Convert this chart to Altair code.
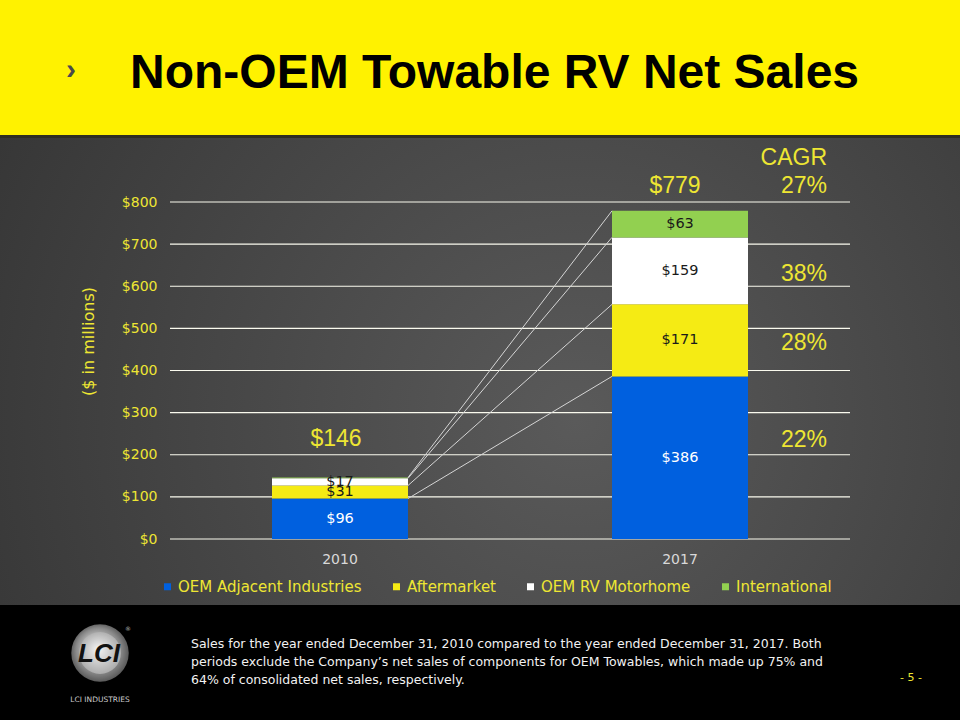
import altair as alt
import pandas as pd

# ---------------- data ----------------
years = ["2010", "2017"]
series = ["OEM Adjacent Industries", "Aftermarket", "OEM RV Motorhome", "International"]
values_2010 = [96, 31, 17, 2]
values_2017 = [386, 171, 159, 63]
series_colors = ["#0060DF", "#F5EB14", "#FFFFFF", "#92D050"]
y_ticks = [0, 100, 200, 300, 400, 500, 600, 700, 800]
cagr_header = "CAGR"
cagr_total = "27%"
cagr_series = ["OEM RV Motorhome", "Aftermarket", "OEM Adjacent Industries"]
cagr_values = ["38%", "28%", "22%"]
title_text = "Non-OEM Towable RV Net Sales"
footnote_lines = [
    "Sales for the year ended December 31, 2010 compared to the year ended December 31, 2017. Both",
    "periods exclude the Company\u2019s net sales of components for OEM Towables, which made up 75% and",
    "64% of consolidated net sales, respectively.",
]
page_label = "- 5 -"
company = "LCI INDUSTRIES"

# ---------------- tables ----------------
rows = []
for yr, vals in zip(years, [values_2010, values_2017]):
    base = 0
    for i, (s, v) in enumerate(zip(series, vals)):
        rows.append({"year": yr, "series": s, "value": v, "y0": base, "y1": base + v,
                     "mid": base + v / 2, "label": "$" + str(v), "order": i})
        base += v
df = pd.DataFrame(rows)

conn = []
for s in series:
    a = df[(df.year == years[0]) & (df.series == s)].iloc[0]
    b = df[(df.year == years[1]) & (df.series == s)].iloc[0]
    conn.append({"from": years[0], "to": years[1], "y_from": a.y1, "y_to": b.y1})
conn_df = pd.DataFrame(conn)

tot_df = df.groupby("year", as_index=False)["value"].sum().rename(columns={"value": "total"})
tot_df["label"] = "$" + tot_df["total"].astype(str)

cagr_df = df[df.year == years[1]].set_index("series").loc[cagr_series].reset_index()
cagr_df["cagr"] = cagr_values

one = pd.DataFrame({"k": [0]})

YEL = "#EEE633"
FONT = "DejaVu Sans"

xband = alt.Scale(domain=years, paddingInner=0.6, paddingOuter=0.3)
yscale = alt.Scale(domain=[0, 800], nice=False)

x_axis = alt.Axis(labelAngle=0, ticks=False, domain=False, labelColor="#D9D9D9",
                  labelFont=FONT, labelFontSize=14, labelPadding=13, zindex=1, title=None)
y_axis = alt.Axis(values=y_ticks, labelExpr="'$' + datum.value", grid=False, ticks=False,
                  domain=False, labelColor=YEL, labelFont=FONT, labelFontSize=14,
                  labelPadding=13, title="($ in millions)", titleColor=YEL,
                  titleFont=FONT, titleFontSize=16, titleFontWeight="normal",
                  titlePadding=25, titleY=139, zindex=1)


def X(field, **kw):
    return alt.X(field, scale=xband, axis=x_axis, **kw)


def Y(field):
    return alt.Y(field, scale=yscale, axis=y_axis)


# ---------------- background ----------------
header = alt.Chart(one).mark_rect(color="#FFF200").encode(
    x=alt.value(-170), x2=alt.value(790), y=alt.value(-202), y2=alt.value(-66))
shadow = alt.Chart(one).mark_rect(color="#2E2E22").encode(
    x=alt.value(-170), x2=alt.value(790), y=alt.value(-67), y2=alt.value(-64))
grad = alt.RadialGradient(
    gradient="radial",
    stops=[alt.GradientStop(offset=0, color="#5A5A5A"),
           alt.GradientStop(offset=1, color="#303030")],
    x1=0.6, y1=0.55, r1=0, x2=0.6, y2=0.55, r2=0.8)
panel = alt.Chart(one).mark_rect(fill=grad).encode(
    x=alt.value(-170), x2=alt.value(790), y=alt.value(-64), y2=alt.value(403))

grid = alt.Chart(pd.DataFrame({"t": y_ticks})).mark_rule(color="#FAFAEE", strokeWidth=1.2).encode(
    y=Y("t:Q"))

# ---------------- bars ----------------
bars = alt.Chart(df).mark_bar().encode(
    x=X("year:N"),
    y=Y("y0:Q"),
    y2="y1:Q",
    color=alt.Color("series:N", scale=alt.Scale(domain=series, range=series_colors),
                    legend=alt.Legend(orient="none", legendX=-10, legendY=377,
                                      direction="horizontal", columns=4, title=None,
                                      symbolType="square", symbolSize=49, symbolStrokeWidth=0,
                                      symbolOpacity=1, labelColor=YEL, labelFont=FONT,
                                      labelFontSize=15, labelOffset=3, columnPadding=27,
                                      labelLimit=400, zindex=1)),
)

connectors = alt.Chart(conn_df).mark_rule(color="#D5D5D5", strokeWidth=1).encode(
    x=X("from:N", bandPosition=1),
    x2=alt.X2("to:N", bandPosition=0),
    y=Y("y_from:Q"),
    y2="y_to:Q",
)

seg_labels = alt.Chart(df).transform_filter("datum.value >= 5").mark_text(
    font=FONT, fontSize=14.5, baseline="middle").encode(
    x=X("year:N"),
    y=Y("mid:Q"),
    text="label:N",
    color=alt.condition(alt.datum.series == series[0], alt.value("#FFFFFF"), alt.value("#1A1A1A")),
)

tot_a = alt.Chart(tot_df).transform_filter(alt.datum.year == years[0]).mark_text(
    font="Liberation Sans", fontSize=23, color=YEL, baseline="alphabetic", dy=-31, dx=-4).encode(
    x=X("year:N"), y=Y("total:Q"), text="label:N")
tot_b = alt.Chart(tot_df).transform_filter(alt.datum.year == years[1]).mark_text(
    font="Liberation Sans", fontSize=23, color=YEL, baseline="alphabetic", dy=-17.5, dx=-5).encode(
    x=X("year:N"), y=Y("total:Q"), text="label:N")

tot17 = tot_df[tot_df.year == years[1]].copy()
tot17["cagr"] = cagr_total
tot17["head"] = cagr_header
cagr_head = alt.Chart(tot17).mark_text(
    font="Liberation Sans", fontSize=23, color=YEL, baseline="alphabetic", align="right", dy=-46).encode(
    x=alt.value(657), y=Y("total:Q"), text="head:N")
cagr_tot = alt.Chart(tot17).mark_text(
    font="Liberation Sans", fontSize=23, color=YEL, baseline="alphabetic", align="right", dy=-17.5).encode(
    x=alt.value(657), y=Y("total:Q"), text="cagr:N")
cagr_up = alt.Chart(cagr_df).transform_filter(alt.datum.series != series[0]).mark_text(
    font="Liberation Sans", fontSize=23, color=YEL, baseline="alphabetic", align="right", dy=10).encode(
    x=alt.value(657), y=Y("mid:Q"), text="cagr:N")
cagr_low = alt.Chart(cagr_df).transform_filter(alt.datum.series == series[0]).mark_text(
    font="Liberation Sans", fontSize=23, color=YEL, baseline="alphabetic", align="right", dy=-11).encode(
    x=alt.value(657), y=Y("mid:Q"), text="cagr:N")

# ---------------- slide text ----------------
title = alt.Chart(one).mark_text(
    font="Liberation Sans", fontWeight="bold", fontSize=48, color="#000000",
    align="left", baseline="alphabetic", text=title_text).encode(x=alt.value(-40), y=alt.value(-114))
chevron = alt.Chart(one).mark_text(
    font="Liberation Sans", fontWeight="bold", fontSize=30, color="#4A4A4A",
    align="center", baseline="alphabetic", text="\u203A").encode(x=alt.value(-99), y=alt.value(-123))

footnote = alt.Chart(one).mark_text(
    font=FONT, fontSize=12.5, color="#F2F2F2", align="left", baseline="middle",
    lineHeight=18, text=footnote_lines).encode(x=alt.value(21), y=alt.value(442))
page = alt.Chart(one).mark_text(
    font=FONT, fontSize=11, color=YEL, align="center", baseline="middle", text=page_label).encode(
    x=alt.value(741), y=alt.value(476))

ring = alt.RadialGradient(
    gradient="radial",
    stops=[alt.GradientStop(offset=0, color="#F0F0F0"), alt.GradientStop(offset=0.7, color="#8A8A8A"),
           alt.GradientStop(offset=1, color="#4A4A4A")],
    x1=0.4, y1=0.35, r1=0, x2=0.5, y2=0.5, r2=0.55)
inner = alt.RadialGradient(
    gradient="radial",
    stops=[alt.GradientStop(offset=0, color="#F4F4F4"), alt.GradientStop(offset=1, color="#A0A0A0")],
    x1=0.45, y1=0.4, r1=0, x2=0.5, y2=0.5, r2=0.6)
logo_outer = alt.Chart(one).mark_circle(size=3300, fill=ring, opacity=1).encode(
    x=alt.value(-70), y=alt.value(451))
logo_inner = alt.Chart(one).mark_circle(size=1750, fill=inner, opacity=1).encode(
    x=alt.value(-70), y=alt.value(451))
logo_text = alt.Chart(one).mark_text(
    font="Liberation Sans", fontWeight="bold", fontStyle="italic", fontSize=26, color="#111111",
    align="center", baseline="middle", text="LCI").encode(x=alt.value(-71), y=alt.value(452))
logo_r = alt.Chart(one).mark_text(
    font=FONT, fontSize=6, color="#BBBBBB", align="center", baseline="middle", text="\u00AE").encode(
    x=alt.value(-42), y=alt.value(427))
logo_name = alt.Chart(one).mark_text(
    font=FONT, fontSize=7.5, color="#CCCCCC", align="center", baseline="middle", text=company).encode(
    x=alt.value(-70), y=alt.value(498))

chart = alt.layer(
    header, shadow, panel, grid, bars, connectors, seg_labels, tot_a, tot_b,
    cagr_head, cagr_tot, cagr_up, cagr_low, title, chevron, footnote, page,
    logo_outer, logo_inner, logo_text, logo_r, logo_name,
).properties(
    width=680, height=337, autosize="none",
    padding={"left": 170, "top": 202, "right": 110, "bottom": 181},
    background="#000000",
).configure_view(stroke=None)

chart.save("out.html", embed_options={"renderer": "svg", "actions": False})
